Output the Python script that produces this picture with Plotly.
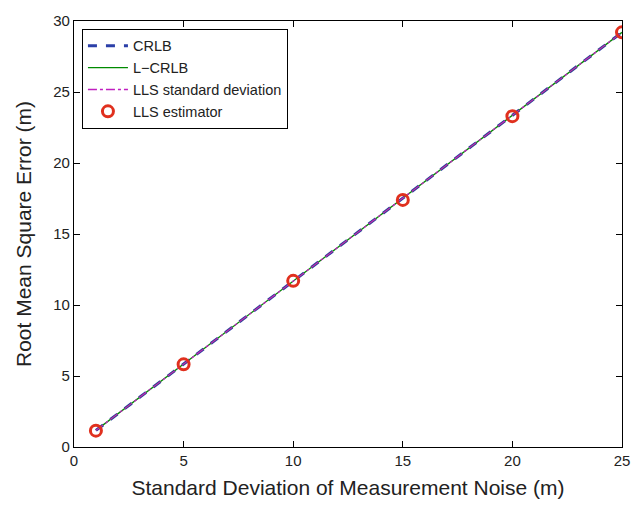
import plotly.graph_objects as go

sigma = [1, 5, 10, 15, 20, 25]
crlb = [1.17, 5.84, 11.68, 17.5, 23.35, 29.2]
lcrlb = [1.17, 5.84, 11.68, 17.5, 23.35, 29.2]
lls_std = [1.17, 5.84, 11.68, 17.5, 23.35, 29.2]
lls_est = [1.15, 5.82, 11.7, 17.4, 23.3, 29.2]

fig = go.Figure()
fig.add_trace(go.Scatter(x=sigma, y=crlb, mode="lines", name="CRLB",
                         line=dict(color="#2b3fa8", width=3, dash="dash")))
fig.add_trace(go.Scatter(x=sigma, y=lcrlb, mode="lines", name="L\u2212CRLB",
                         line=dict(color="#008a00", width=1.3)))
fig.add_trace(go.Scatter(x=sigma, y=lls_std, mode="lines", name="LLS standard deviation",
                         line=dict(color="#c020c0", width=1.3, dash="dashdot")))
fig.add_trace(go.Scatter(x=sigma, y=lls_est, mode="markers", name="LLS estimator",
                         marker=dict(symbol="circle-open", size=11, color="#e0301e",
                                     line=dict(width=3, color="#e0301e"))))

axis_common = dict(showline=True, linecolor="black", linewidth=1.2, mirror="ticks",
                   ticks="inside", ticklen=6, tickcolor="black", showgrid=False,
                   zeroline=False, tickfont=dict(size=15, color="#222"))
fig.update_layout(
    width=642, height=508,
    margin=dict(l=74, r=15, t=15, b=60),
    paper_bgcolor="white", plot_bgcolor="white",
    font=dict(family="Liberation Sans, Arial, sans-serif", color="#222"),
    xaxis=dict(range=[0, 25], tickvals=[0, 5, 10, 15, 20, 25],
               title=dict(text="Standard Deviation of Measurement Noise (m)",
                          font=dict(size=21), standoff=12), **axis_common),
    yaxis=dict(range=[0, 30], tickvals=[0, 5, 10, 15, 20, 25, 30],
               title=dict(text="Root Mean Square Error (m)", font=dict(size=21), standoff=15),
               **axis_common),
    legend=dict(x=0.0145, y=0.9815, xanchor="left", yanchor="top",
                bordercolor="black", borderwidth=1, bgcolor="white",
                font=dict(size=14.5, color="#222"), tracegroupgap=0,
                itemwidth=40),
    showlegend=True,
)
fig.write_html("out.html")
